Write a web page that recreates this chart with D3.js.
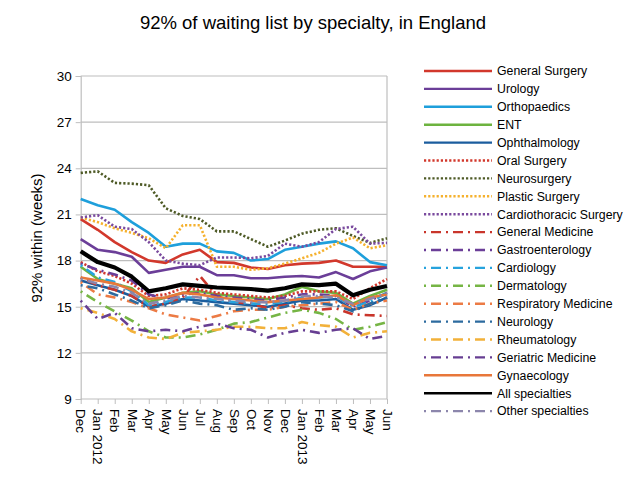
<!DOCTYPE html>
<html><head><meta charset="utf-8">
<script src="https://cdn.jsdelivr.net/npm/d3@7"></script>
<style>body{margin:0;background:#fff}text{font-family:"Liberation Sans",Arial,sans-serif}</style>
</head><body>
<svg id="c" width="628" height="482"></svg>
<script>
const months = ["Dec","Jan 2012","Feb","Mar","Apr","May","Jun","Jul","Aug","Sep","Oct","Nov","Dec","Jan 2013","Feb","Mar","Apr","May","Jun"];
const yTicks = [9,12,15,18,21,24,27,30];

const generalSurgery   = [20.7,20.0,19.2,18.55,18.0,17.85,18.4,18.7,17.9,17.85,17.55,17.45,17.7,17.8,17.85,18.0,17.6,17.6,17.6];
const urology          = [19.4,18.7,18.55,18.25,17.2,17.4,17.6,17.6,17.05,17.05,16.85,16.85,16.95,17.0,16.9,17.25,16.8,17.3,17.55];
const orthopaedics     = [22.0,21.6,21.3,20.5,19.8,18.9,19.1,19.1,18.6,18.5,18.0,18.1,18.7,18.9,19.1,19.25,18.8,17.9,17.7];
const ent              = [17.6,16.8,16.5,16.2,15.3,15.6,15.9,16.0,15.8,15.7,15.6,15.5,15.8,16.3,16.0,15.9,15.2,15.7,16.1];
const ophthalmology    = [16.7,16.4,16.1,15.7,15.0,15.2,15.5,15.4,15.3,15.2,15.1,15.0,15.2,15.4,15.4,15.5,14.8,15.1,15.6];
const oralSurgery      = [17.9,17.3,17.0,16.5,15.7,15.8,16.2,16.1,15.9,15.8,15.7,15.6,15.7,16.0,16.0,16.0,15.5,16.2,16.8];
const neurosurgery     = [23.7,23.8,23.05,23.0,22.9,21.4,20.9,20.7,19.9,19.9,19.4,18.9,19.3,19.75,20.0,20.1,19.6,19.15,19.45];
const plasticSurgery   = [20.8,20.5,20.1,19.8,19.45,18.8,20.3,20.3,17.6,17.6,17.4,17.5,17.8,18.15,18.5,19.1,19.5,18.8,19.0];
const cardiothoracic   = [20.8,20.95,20.2,20.05,19.2,18.0,17.8,17.7,18.2,18.2,18.15,18.3,19.1,18.9,19.2,20.05,20.2,19.1,19.15];
const generalMedicine  = [16.9,16.4,16.1,15.7,15.0,15.2,15.6,17.0,15.7,15.3,15.2,14.9,15.1,14.9,14.8,14.9,14.5,14.45,14.4];
const gastroenterology = [17.8,17.4,17.1,16.7,15.8,15.5,15.8,15.9,15.7,15.6,15.5,15.4,15.6,15.8,15.8,15.7,15.0,15.4,15.9];
const cardiology       = [17.7,16.9,16.6,16.0,15.1,15.3,15.6,15.6,15.4,15.3,15.2,15.2,15.3,15.6,15.6,15.7,15.0,15.3,15.9];
const dermatology      = [16.0,15.3,14.7,14.1,13.4,13.0,13.0,13.2,13.5,13.9,14.0,14.3,14.6,14.8,14.6,14.2,13.5,13.7,14.0];
const respiratory      = [16.6,15.8,15.6,15.3,14.9,14.5,14.3,14.1,14.4,14.7,14.8,14.8,15.0,15.1,15.2,15.3,14.8,15.2,15.4];
const neurology        = [16.4,16.2,15.8,15.4,14.9,15.1,15.4,15.2,15.1,14.8,14.9,14.8,15.0,15.3,15.2,15.1,14.7,15.2,15.6];
const rheumatology     = [14.9,14.6,14.2,13.4,13.0,12.9,13.3,13.4,13.5,13.7,13.7,13.6,13.6,14.0,13.8,13.7,13.0,13.3,13.4];
const geriatric        = [15.4,14.2,14.6,13.6,13.4,13.5,13.4,13.7,13.9,13.6,13.5,13.0,13.3,13.5,13.3,13.5,13.6,12.9,13.1];
const gynaecology      = [16.9,16.7,16.5,16.1,15.5,15.6,15.9,15.8,15.6,15.5,15.4,15.3,15.4,15.5,15.6,15.75,15.1,15.6,15.8];
const allSpecialties   = [18.6,17.9,17.55,16.95,16.0,16.2,16.45,16.35,16.25,16.2,16.15,16.05,16.2,16.45,16.4,16.5,15.75,16.1,16.35];
const otherSpecialties = [16.8,16.5,16.3,15.9,15.2,15.4,15.7,15.6,15.5,15.4,15.3,15.3,15.4,15.7,15.7,15.6,15.2,15.5,15.9];

const seriesNames = ["General Surgery","Urology","Orthopaedics","ENT","Ophthalmology","Oral Surgery","Neurosurgery","Plastic Surgery","Cardiothoracic Surgery","General Medicine","Gastroenterology","Cardiology","Dermatology","Respiratory Medicine","Neurology","Rheumatology","Geriatric Medicine","Gynaecology","All specialties","Other specialties"];
const seriesValues = [generalSurgery,urology,orthopaedics,ent,ophthalmology,oralSurgery,neurosurgery,plasticSurgery,cardiothoracic,generalMedicine,gastroenterology,cardiology,dermatology,respiratory,neurology,rheumatology,geriatric,gynaecology,allSpecialties,otherSpecialties];

const colors = ["#D2382C","#6B3E98","#1E9FDB","#6DB33F","#1B5D9E","#D2382C","#4E5A26","#F5B12E","#7A4A9E","#C9352B","#6B3E98","#27A3DD","#76B545","#EC7B45","#2D6B9F","#F2B13A","#673E92","#E8773A","#000000","#8C86AC"];
const styles = ["s","s","s","s","s","d","d","d","d","dd","dd","dd","dd","dd","dd","dd","dd","s","s","dd"];

const svg = d3.select("#c");
const X0 = 80.7, X1 = 387, Y0 = 399, Y1 = 76;
const x = d3.scaleLinear().domain([0, months.length-1]).range([X0, X1]);
const y = d3.scaleLinear().domain([9,30]).range([Y0, Y1]);

svg.append("text").attr("x",313).attr("y",29).attr("text-anchor","middle")
  .style("font-size","18.5px").text("92% of waiting list by specialty, in England");

// gridlines
svg.append("g").selectAll("line").data(yTicks.filter(t=>t>9)).join("line")
  .attr("x1",X0).attr("x2",X1).attr("y1",d=>y(d)).attr("y2",d=>y(d))
  .attr("stroke","#BEBEBE").attr("stroke-width",1.2);
svg.append("line").attr("x1",X1).attr("x2",X1).attr("y1",Y1).attr("y2",Y0).attr("stroke","#BEBEBE").attr("stroke-width",1.2);

// y axis
const yAxis = d3.axisLeft(y).tickValues(yTicks).tickSize(5).tickPadding(4);
const gy = svg.append("g").attr("transform",`translate(${X0},0)`).call(yAxis);
gy.select(".domain").attr("stroke","#BEBEBE").attr("stroke-width",1.2);
gy.selectAll(".tick line").attr("stroke","#BEBEBE");
gy.selectAll(".tick text").style("font-size","13.5px").style("font-family","'Liberation Sans',Arial,sans-serif").attr("fill","#000");

// x axis
const xAxis = d3.axisBottom(x).tickValues(d3.range(months.length)).tickFormat(i=>months[i]).tickSize(5).tickPadding(0);
const gx = svg.append("g").attr("transform",`translate(0,${Y0})`).call(xAxis);
gx.select(".domain").attr("stroke","#BEBEBE").attr("stroke-width",1.2).attr("d",`M${X0},0H${X1}`);
gx.selectAll(".tick line").attr("stroke","#BEBEBE");
gx.selectAll(".tick text").style("font-size","13.5px").style("font-family","'Liberation Sans',Arial,sans-serif").attr("fill","#000")
  .attr("text-anchor","start").attr("dy","0.35em").attr("transform","translate(0,10) rotate(90)").attr("y",0).attr("x",0);

svg.append("text").attr("transform","translate(42,238) rotate(-90)").attr("text-anchor","middle")
  .style("font-size","15px").text("92% within (weeks)");

function dash(s, w){ if(s==="d") return "2.2,2"; if(s==="dd") return "2,5,10,5"; return null; }

const line = d3.line().x((d,i)=>x(i)).y(d=>y(d));
const g = svg.append("g");
seriesValues.forEach((vals,k)=>{
  const w = k===18 ? 4.2 : 2.6;
  g.append("path").datum(vals).attr("d",line).attr("fill","none")
    .attr("stroke",colors[k]).attr("stroke-width",w)
    .attr("stroke-dasharray",dash(styles[k])).attr("stroke-linejoin","round");
});

// legend
const lg = svg.append("g");
seriesNames.forEach((n,k)=>{
  const yy = 71 + k*17.9;
  lg.append("line").attr("x1",424).attr("x2",492).attr("y1",yy).attr("y2",yy)
    .attr("stroke",colors[k]).attr("stroke-width",k===18?2.6:2.4)
    .attr("stroke-dasharray",dash(styles[k]));
  lg.append("text").attr("x",497).attr("y",yy).attr("dy","0.35em").style("font-size","12.3px").text(n);
});
</script>
</body></html>
